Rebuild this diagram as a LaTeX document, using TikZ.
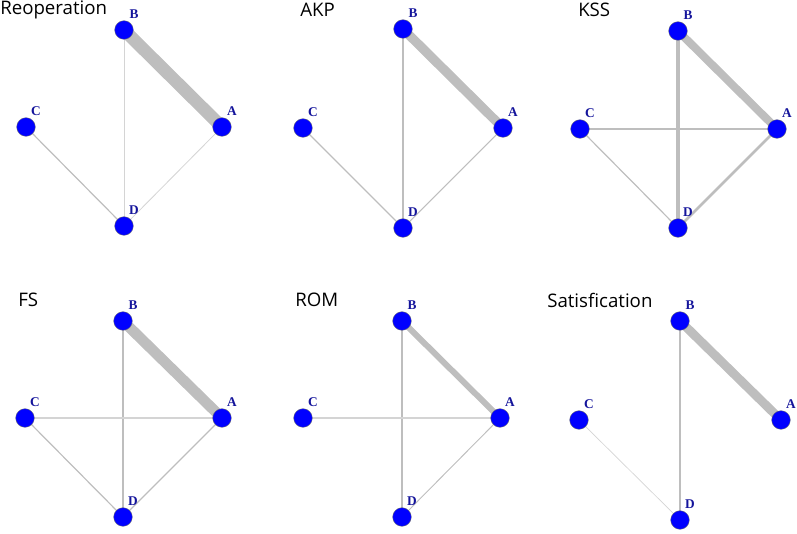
\documentclass[tikz,border=0pt]{standalone}
\usepackage{fontspec}
\newfontfamily\titlefont{Open Sans}
\newfontfamily\labelfont{Liberation Serif}
\usetikzlibrary{backgrounds}
\definecolor{vblue}{RGB}{0,0,255}
\definecolor{lblue}{RGB}{20,20,155}
\definecolor{edgegray}{RGB}{190,190,190}
\definecolor{thingray}{RGB}{212,212,212}
\tikzset{
	vertex/.style={circle,fill=vblue,draw=black!55,line width=0.3pt,inner sep=0pt,minimum size=14pt},
	vlabel/.style={text=lblue,font=\labelfont\bfseries\fontsize{10}{11}\selectfont,inner sep=0pt},
	paneltitle/.style={anchor=west,inner sep=0pt,font=\titlefont\fontsize{14}{16}\selectfont},
	link/.style={draw=edgegray,line width=#1},
	faint/.style={draw=thingray,line width=#1},
}
\begin{document}
\begin{tikzpicture}[x=0.75pt,y=-0.75pt]
		\useasboundingbox (0,0) rectangle (797,533);
		% Reoperation
		\begin{scope}[shift={(124,30)}]
		\foreach \v/\x/\y in {B/0/0,C/-98/97,A/98/97,D/0/196}
		{
			\node[vertex] (\v1) at (\x,\y) {};
			\node[vlabel] (l\v1) at (\x+10,\y-16) {\v};
		}
		\node[paneltitle] (t1) at (-124,-20) {Reoperation};
		\begin{scope}[on background layer]
		\draw[link=9.5pt] (B1.center) -- (A1.center);
		\draw[faint=0.6pt] (B1.center) -- (D1.center);
		\draw[link=0.9pt] (C1.center) -- (D1.center);
		\draw[faint=0.6pt] (A1.center) -- (D1.center);
		\end{scope}
		\end{scope}
		% AKP
		\begin{scope}[shift={(403,29)}]
		\foreach \v/\x/\y in {B/0/0,C/-100/99,A/100/99,D/0/199}
		{
			\node[vertex] (\v2) at (\x,\y) {};
			\node[vlabel] (l\v2) at (\x+10,\y-16) {\v};
		}
		\node[paneltitle] (t2) at (-103,-19) {AKP};
		\begin{scope}[on background layer]
		\draw[link=7pt] (B2.center) -- (A2.center);
		\draw[link=1.4pt] (B2.center) -- (D2.center);
		\draw[link=0.8pt] (C2.center) -- (D2.center);
		\draw[link=0.8pt] (A2.center) -- (D2.center);
		\end{scope}
		\end{scope}
		% KSS
		\begin{scope}[shift={(678,31)}]
		\foreach \v/\x/\y in {B/0/0,C/-98/98,A/99/98,D/0/197}
		{
			\node[vertex] (\v3) at (\x,\y) {};
			\node[vlabel] (l\v3) at (\x+10,\y-16) {\v};
		}
		\node[paneltitle] (t3) at (-100,-21) {KSS};
		\begin{scope}[on background layer]
		\draw[link=6pt] (B3.center) -- (A3.center);
		\draw[link=2.4pt] (B3.center) -- (D3.center);
		\draw[link=0.9pt] (C3.center) -- (A3.center);
		\draw[link=0.9pt] (C3.center) -- (D3.center);
		\draw[link=1.9pt] (A3.center) -- (D3.center);
		\end{scope}
		\end{scope}
		% FS
		\begin{scope}[shift={(123,321)}]
		\foreach \v/\x/\y in {B/0/0,C/-98/97,A/99/97,D/0/196}
		{
			\node[vertex] (\v4) at (\x,\y) {};
			\node[vlabel] (l\v4) at (\x+10,\y-16) {\v};
		}
		\node[paneltitle] (t4) at (-105,-21) {FS};
		\begin{scope}[on background layer]
		\draw[link=8pt] (B4.center) -- (A4.center);
		\draw[link=1.5pt] (B4.center) -- (D4.center);
		\draw[faint=0.9pt] (C4.center) -- (A4.center);
		\draw[link=0.9pt] (C4.center) -- (D4.center);
		\draw[link=0.9pt] (A4.center) -- (D4.center);
		\end{scope}
		\end{scope}
		% ROM
		\begin{scope}[shift={(402,321)}]
		\foreach \v/\x/\y in {B/0/0,C/-99/97,A/98/97,D/0/196}
		{
			\node[vertex] (\v5) at (\x,\y) {};
			\node[vlabel] (l\v5) at (\x+10,\y-16) {\v};
		}
		\node[paneltitle] (t5) at (-107,-21) {ROM};
		\begin{scope}[on background layer]
		\draw[link=4.5pt] (B5.center) -- (A5.center);
		\draw[link=2.2pt] (B5.center) -- (D5.center);
		\draw[faint=0.8pt] (C5.center) -- (A5.center);
		\draw[link=0.7pt] (A5.center) -- (D5.center);
		\end{scope}
		\end{scope}
		% Satisfication
		\begin{scope}[shift={(680,321)}]
		\foreach \v/\x/\y in {B/0/0,C/-101/99,A/101/99,D/0/199}
		{
			\node[vertex] (\v6) at (\x,\y) {};
			\node[vlabel] (l\v6) at (\x+10,\y-16) {\v};
		}
		\node[paneltitle] (t6) at (-133,-21) {Satisfication};
		\begin{scope}[on background layer]
		\draw[link=6.7pt] (B6.center) -- (A6.center);
		\draw[link=1.5pt] (B6.center) -- (D6.center);
		\draw[faint=0.5pt] (C6.center) -- (D6.center);
		\end{scope}
		\end{scope}
\end{tikzpicture}
\end{document}
